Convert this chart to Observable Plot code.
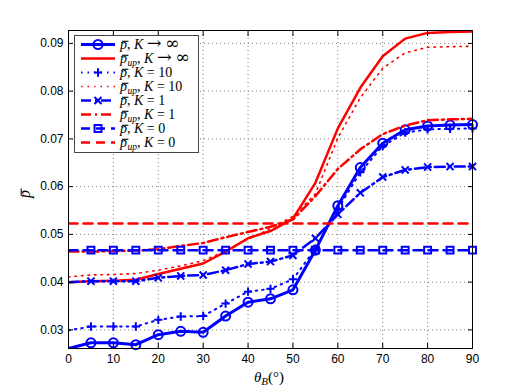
<!DOCTYPE html>
<html><head><meta charset="utf-8">
<script src="https://cdn.jsdelivr.net/npm/d3@7"></script>
<script src="https://cdn.jsdelivr.net/npm/@observablehq/plot@0.6"></script>
<style>body{margin:0;background:#fff}</style>
</head><body><div id="chart"></div>
<script>
// ---- data ----
const theta = [0,5,10,15,20,25,30,35,40,45,50,55,60,65,70,75,80,85,90];
const pbarInf = [0.0261,0.0273,0.0273,0.0269,0.0290,0.0297,0.0295,0.0329,0.0358,0.0365,0.0384,0.0467,0.0560,0.0640,0.0691,0.0719,0.0727,0.0729,0.0730];
const pupInf  = [0.0400,0.0402,0.0403,0.0405,0.0417,0.0428,0.0439,0.0464,0.0492,0.0507,0.0533,0.0608,0.0722,0.0807,0.0873,0.0910,0.0922,0.0924,0.0925];
const pbar10  = [0.0299,0.0307,0.0307,0.0307,0.0321,0.0328,0.0329,0.0355,0.0380,0.0386,0.0406,0.0470,0.0553,0.0630,0.0685,0.0713,0.0720,0.0721,0.0722];
const pup10   = [0.0411,0.0415,0.0416,0.0418,0.0425,0.0434,0.0445,0.0465,0.0490,0.0512,0.0538,0.0585,0.0702,0.0786,0.0848,0.0880,0.0892,0.0893,0.0894];
const pbar1   = [0.0400,0.0402,0.0402,0.0402,0.0409,0.0413,0.0415,0.0425,0.0438,0.0443,0.0456,0.0492,0.0542,0.0587,0.0620,0.0635,0.0641,0.0642,0.0642];
const pup1    = [0.0464,0.0464,0.0465,0.0466,0.0469,0.0476,0.0482,0.0494,0.0505,0.0516,0.0531,0.0580,0.0637,0.0678,0.0710,0.0728,0.0739,0.0741,0.0742];
const pbar0   = [0.0467,0.0467,0.0467,0.0467,0.0467,0.0467,0.0467,0.0467,0.0467,0.0467,0.0467,0.0467,0.0467,0.0467,0.0467,0.0467,0.0467,0.0467,0.0467];
const pup0    = [0.0523,0.0523,0.0523,0.0523,0.0523,0.0523,0.0523,0.0523,0.0523,0.0523,0.0523,0.0523,0.0523,0.0523,0.0523,0.0523,0.0523,0.0523,0.0523];
const xTicks = [0,10,20,30,40,50,60,70,80,90];
const yTicks = [0.03,0.04,0.05,0.06,0.07,0.08,0.09];
// "bar" marks a variable drawn with an over-bar (p̄); "big" marks a wide math symbol
const legendLabels = [
  [{t:"p",i:1,bar:1},{t:", "},{t:"K",i:1},{t:" "},{t:"→",big:1},{t:" "},{t:"∞",big:1}],
  [{t:"p",i:1,bar:1},{t:"up",i:1,sub:1},{t:", "},{t:"K",i:1},{t:" "},{t:"→",big:1},{t:" "},{t:"∞",big:1}],
  [{t:"p",i:1,bar:1},{t:", "},{t:"K",i:1},{t:" = 10"}],
  [{t:"p",i:1,bar:1},{t:"up",i:1,sub:1},{t:", "},{t:"K",i:1},{t:" = 10"}],
  [{t:"p",i:1,bar:1},{t:", "},{t:"K",i:1},{t:" = 1"}],
  [{t:"p",i:1,bar:1},{t:"up",i:1,sub:1},{t:", "},{t:"K",i:1},{t:" = 1"}],
  [{t:"p",i:1,bar:1},{t:", "},{t:"K",i:1},{t:" = 0"}],
  [{t:"p",i:1,bar:1},{t:"up",i:1,sub:1},{t:", "},{t:"K",i:1},{t:" = 0"}]
];

const BLUE = "#0000ff", RED = "#ff0000";
const series = [
  {values:pbarInf, color:BLUE, width:3,   dash:null,        symbol:"circle", r:4.5},
  {values:pupInf,  color:RED,  width:2.5, dash:null,        symbol:null},
  {values:pbar10,  color:BLUE, width:2,   dash:"1.5,5",     symbol:"plus",   r:2.8},
  {values:pup10,   color:RED,  width:1.6, dash:"1.5,5",     symbol:null},
  {values:pbar1,   color:BLUE, width:2.5, dash:"10,4,2,4",  symbol:"times",  r:3.3},
  {values:pup1,    color:RED,  width:2.5, dash:"10,4,2,4",  symbol:null},
  {values:pbar0,   color:BLUE, width:2.5, dash:"9,6",       symbol:"square", r:3.9},
  {values:pup0,    color:RED,  width:2.5, dash:"9,6",       symbol:null}
];

const marks = [
  Plot.gridX(xTicks, {stroke:"#808080", strokeOpacity:1, strokeWidth:1, strokeDasharray:"1,3"}),
  Plot.gridY(yTicks, {stroke:"#808080", strokeOpacity:1, strokeWidth:1, strokeDasharray:"1,3"})
];
series.forEach(s => {
  const rows = theta.map((t, j) => ({t, v: s.values[j]}));
  marks.push(Plot.line(rows, {x:"t", y:"v", stroke:s.color, strokeWidth:s.width,
    strokeDasharray:s.dash, strokeLinejoin:"round", clip:true}));
  if (s.symbol) {
    marks.push(Plot.dot(rows.filter(d => d.t > 0), {x:"t", y:"v", symbol:s.symbol, r:s.r,
      stroke:s.color, strokeWidth:2, fill:"none"}));
  }
});
marks.push(
  Plot.frame({stroke:"#000", strokeWidth:1}),
  Plot.axisX(xTicks, {anchor:"bottom", tickSize:0, tickPadding:6, fontSize:12, label:null}),
  Plot.axisX(xTicks, {anchor:"bottom", tickSize:-5, fill:"none", label:null}),
  Plot.axisX(xTicks, {anchor:"top", tickSize:-5, fill:"none", label:null}),
  Plot.axisY(yTicks, {anchor:"left", tickSize:0, tickPadding:5, tickFormat:d3.format(".2f"), fontSize:12, label:null}),
  Plot.axisY(yTicks, {anchor:"left", tickSize:-5, fill:"none", label:null}),
  Plot.axisY(yTicks, {anchor:"right", tickSize:-5, fill:"none", label:null})
);

const chart = Plot.plot({
  width:522, height:392,
  marginLeft:68, marginRight:50, marginTop:30, marginBottom:44,
  x:{domain:[0,90]},
  y:{domain:[0.0261,0.0927]},
  style:{fontFamily:"'Liberation Sans', Arial, sans-serif", fontSize:"12px", color:"#000", background:"#fff"},
  marks
});
document.getElementById("chart").appendChild(chart);

// ---- axis titles and legend ----
const svg = d3.select(chart);
const mathFont = "'Liberation Serif', 'DejaVu Serif', serif";

// writes math-like text; returns indices of chars needing an over-bar
function mathText(textSel, parts, size) {
  let shift = 0, idx = 0; const bars = [];
  parts.forEach(p => {
    const ts = textSel.append("tspan").text(p.t)
      .attr("font-style", p.i ? "italic" : "normal");
    if (p.sub) { ts.attr("font-size", size * 0.68).attr("dy", 2.5 - shift).attr("dx", 0.6); shift = 2.5; }
    else if (shift) { ts.attr("dy", -shift); shift = 0; }
    if (p.big) { ts.attr("font-size", size * 1.25).attr("font-family", "'DejaVu Serif', serif"); }
    if (p.bar) bars.push(idx);
    idx += p.t.length;
  });
  return bars;
}
function drawBars(textSel, bars, size, color) {
  const node = textSel.node();
  const parent = d3.select(node.parentNode);
  const baseY = +textSel.attr("y");
  bars.forEach(k => {
    const e = node.getExtentOfChar(k);
    const yb = baseY - size * 0.55;
    parent.append("line")
      .attr("x1", e.x + size * 0.14).attr("x2", e.x + e.width + size * 0.1)
      .attr("y1", yb).attr("y2", yb)
      .attr("stroke", color).attr("stroke-width", 1.1);
  });
}

// x label
const xl = svg.append("text").attr("x", 269).attr("y", 382).attr("text-anchor", "middle")
  .attr("font-family", mathFont).attr("font-size", 15).attr("fill", "#000");
xl.append("tspan").attr("font-style", "italic").text("θ");
xl.append("tspan").attr("font-style", "italic").attr("font-size", 11).attr("dy", 3).text("B");
xl.append("tspan").attr("dy", -3).text("(°)");

// y label (rotated p̄)
const yg = svg.append("g").attr("transform", "translate(30,194) rotate(-90)");
const yt = yg.append("text").attr("x", -4).attr("y", 0).attr("text-anchor", "start")
  .attr("font-family", mathFont).attr("font-size", 16).attr("font-style", "italic").attr("fill", "#000").text("p");
drawBars(yt, [0], 16, "#000");

// legend
const lg = svg.append("g");
lg.append("rect").attr("x", 74.5).attr("y", 35.5).attr("width", 124).attr("height", 117)
  .attr("fill", "#fff").attr("stroke", "#444").attr("stroke-width", 1);
const symMap = {circle:d3.symbolCircle, plus:d3.symbolPlus, times:d3.symbolTimes, square:d3.symbolSquare};
const LS = 14;
series.forEach((s, i) => {
  const y = 44.5 + i * 14;
  lg.append("line").attr("x1", 81).attr("x2", 115).attr("y1", y).attr("y2", y)
    .attr("stroke", s.color).attr("stroke-width", s.width)
    .attr("stroke-dasharray", s.dash);
  if (s.symbol) {
    lg.append("path").attr("transform", `translate(98,${y})`)
      .attr("d", d3.symbol(symMap[s.symbol], s.r * s.r * Math.PI)())
      .attr("fill", "none").attr("stroke", s.color).attr("stroke-width", 2);
  }
  const tx = lg.append("text").attr("x", 120).attr("y", y + 4.5).attr("text-anchor", "start")
    .attr("font-family", mathFont).attr("font-size", LS).attr("fill", "#000");
  const bars = mathText(tx, legendLabels[i], LS);
  drawBars(tx, bars, LS, "#000");
});
</script></body></html>
